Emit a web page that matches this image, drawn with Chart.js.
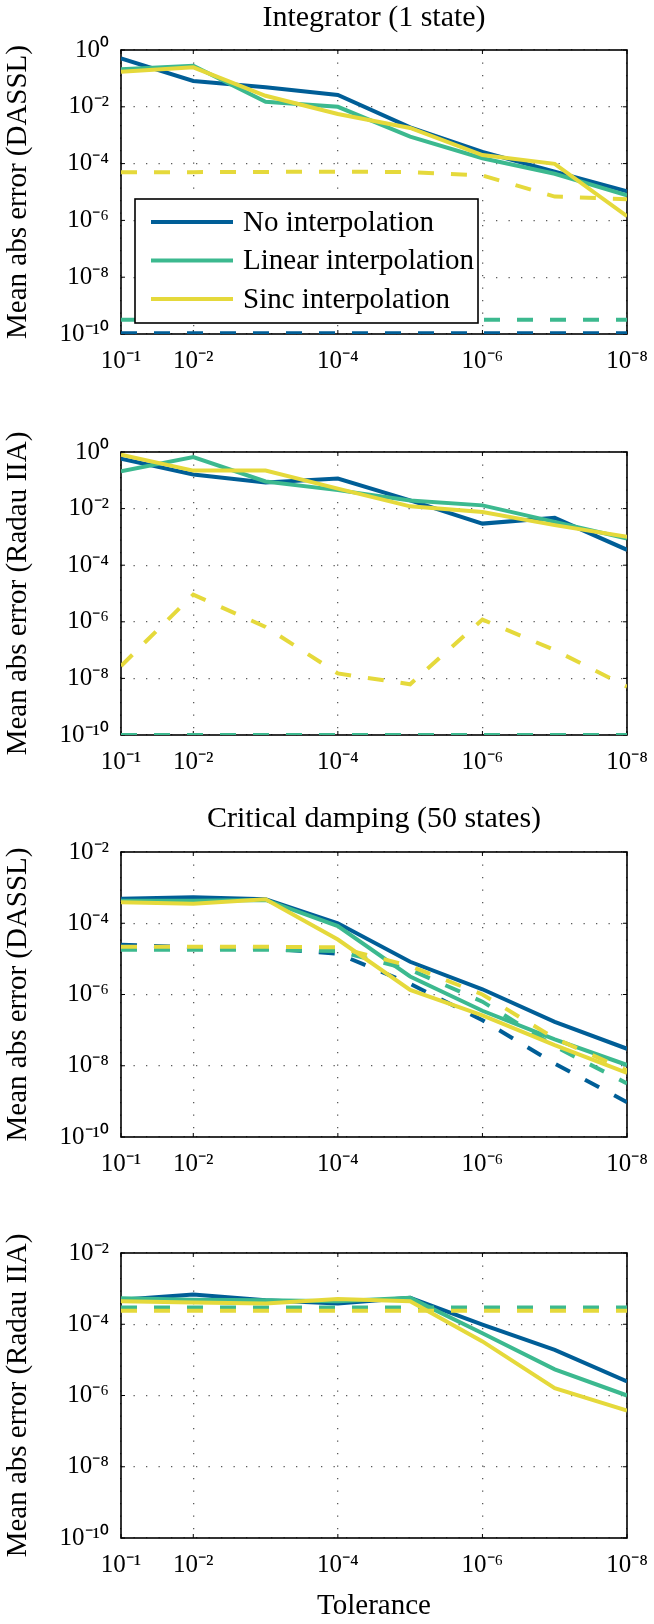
<!DOCTYPE html>
<html>
<head>
<meta charset="utf-8">
<script src="https://cdn.jsdelivr.net/npm/chart.js@4"></script>
<style>
  html, body { margin: 0; padding: 0; background: #fff; }
  #page { position: relative; width: 654px; height: 1624px; }
  canvas { position: absolute; left: 0; }
  #warm { position: absolute; left: 0; top: 0; font-family: 'Liberation Serif'; font-size: 20px; color: #fff; }
</style>
</head>
<body>
<div id="page">
  <span id="warm">Integrator 10⁻¹</span>
  <canvas id="c1" width="654" height="400" style="top:0"></canvas>
  <canvas id="c2" width="654" height="400" style="top:400px"></canvas>
  <canvas id="c3" width="654" height="400" style="top:800px"></canvas>
  <canvas id="c4" width="654" height="424" style="top:1200px"></canvas>
</div>
<script>
// tolerances used for every run (x axis)
const tolerances = [1e-1, 1e-2, 1e-3, 1e-4, 1e-5, 1e-6, 1e-7, 1e-8];
const xTickValues = [1e-1, 1e-2, 1e-4, 1e-6, 1e-8];
const yTicksIntegrator = [1, 1e-2, 1e-4, 1e-6, 1e-8, 1e-10];
const yTicksCritical = [1e-2, 1e-4, 1e-6, 1e-8, 1e-10];

const seriesNames = ["No interpolation", "Linear interpolation", "Sinc interpolation"];
const seriesColors = ["#005e97", "#3cb98f", "#e5d93b"];

// Integrator (1 state), DASSL
const intDasslNone = [5.1e-1, 8.1e-2, 4.9e-2, 2.6e-2, 1.9e-3, 2.6e-4, 5.2e-5, 1.05e-5];
const intDasslLinear = [2.1e-1, 2.8e-1, 1.5e-2, 1.0e-2, 8.9e-4, 1.55e-4, 4.4e-5, 7.6e-6];
const intDasslSinc = [1.7e-1, 2.45e-1, 2.45e-2, 5.6e-3, 1.8e-3, 2.0e-4, 9.8e-5, 1.4e-6];
const intDasslNoneDash = [1.07e-10, 1.07e-10, 1.07e-10, 1.07e-10, 1.07e-10, 1.07e-10, 1.07e-10, 1.07e-10];
const intDasslLinearDash = [3.2e-10, 3.2e-10, 3.2e-10, 3.2e-10, 3.2e-10, 3.2e-10, 3.2e-10, 3.2e-10];
const intDasslSincDash = [5.0e-5, 5.0e-5, 5.1e-5, 5.2e-5, 5.0e-5, 3.8e-5, 6.9e-6, 5.6e-6];

// Integrator (1 state), Radau IIA
const intRadauNone = [5.75e-1, 1.6e-1, 8.3e-2, 1.15e-1, 1.95e-2, 2.95e-3, 4.7e-3, 3.5e-4];
const intRadauLinear = [2.1e-1, 6.6e-1, 9.1e-2, 4.5e-2, 1.95e-2, 1.3e-2, 3.4e-3, 8.7e-4];
const intRadauSinc = [8.1e-1, 2.2e-1, 2.2e-1, 5.1e-2, 1.2e-2, 7.6e-3, 2.6e-3, 1.0e-3];
const intRadauNoneDash = [1e-10, 1e-10, 1e-10, 1e-10, 1e-10, 1e-10, 1e-10, 1e-10];
const intRadauLinearDash = [1e-10, 1e-10, 1e-10, 1e-10, 1e-10, 1e-10, 1e-10, 1e-10];
const intRadauSincDash = [2.75e-8, 9.1e-6, 6.6e-7, 1.5e-8, 6.2e-9, 1.2e-6, 1.0e-7, 5.1e-9];

// Critical damping (50 states), DASSL
const cdDasslNone = [4.9e-4, 5.4e-4, 4.7e-4, 1.0e-4, 8.3e-6, 1.4e-6, 1.7e-7, 3.0e-8];
const cdDasslLinear = [4.3e-4, 4.3e-4, 4.5e-4, 8.3e-5, 3.2e-6, 3.5e-7, 5.5e-8, 1.05e-8];
const cdDasslSinc = [3.9e-4, 3.5e-4, 4.7e-4, 3.5e-5, 1.35e-6, 2.6e-7, 3.8e-8, 6.3e-9];
const cdDasslNoneDash = [2.5e-5, 2.1e-5, 2.0e-5, 1.4e-5, 2.0e-6, 1.9e-7, 1.15e-8, 9.5e-10];
const cdDasslLinearDash = [1.8e-5, 1.8e-5, 1.8e-5, 1.65e-5, 5.0e-6, 6.3e-7, 3.5e-8, 3.2e-9];
const cdDasslSincDash = [2.2e-5, 2.2e-5, 2.2e-5, 2.1e-5, 6.3e-6, 1.0e-6, 5.9e-8, 7.4e-9];

// Critical damping (50 states), Radau IIA
const cdRadauNone = [4.9e-4, 6.8e-4, 4.7e-4, 3.8e-4, 5.5e-4, 9.8e-5, 1.9e-5, 2.5e-6];
const cdRadauLinear = [5.4e-4, 4.9e-4, 4.7e-4, 4.4e-4, 5.5e-4, 5.6e-5, 5.4e-6, 1.0e-6];
const cdRadauSinc = [4.4e-4, 4.1e-4, 3.8e-4, 5.1e-4, 4.4e-4, 3.3e-5, 1.6e-6, 3.8e-7];
const cdRadauNoneDash = [2.75e-4, 2.75e-4, 2.75e-4, 2.75e-4, 2.75e-4, 2.75e-4, 2.75e-4, 2.75e-4];
const cdRadauLinearDash = [2.95e-4, 2.95e-4, 2.95e-4, 2.95e-4, 2.95e-4, 2.95e-4, 2.95e-4, 2.95e-4];
const cdRadauSincDash = [2.4e-4, 2.4e-4, 2.4e-4, 2.4e-4, 2.4e-4, 2.4e-4, 2.4e-4, 2.4e-4];

const FONT = "'Liberation Serif'";
const SUP = { "-": "\u207B", "0": "\u2070", "1": "\u00B9", "2": "\u00B2", "3": "\u00B3",
  "4": "\u2074", "5": "\u2075", "6": "\u2076", "7": "\u2077", "8": "\u2078", "9": "\u2079" };

function powerLabel(v) {
  const e = String(Math.round(Math.log10(v)));
  return "10" + e.split("").map((c) => SUP[c]).join("");
}

// black box round the plot, with small inward ticks
const framePlugin = {
  id: "frame",
  beforeDatasetsDraw(chart) {
    const { ctx, chartArea: a, scales } = chart;
    ctx.save();
    ctx.strokeStyle = "#000";
    ctx.lineWidth = 1.6;
    ctx.strokeRect(a.left, a.top, a.right - a.left, a.bottom - a.top);
    ctx.lineWidth = 1;
    ctx.beginPath();
    scales.x.ticks.forEach((t) => {
      const px = scales.x.getPixelForValue(t.value);
      ctx.moveTo(px, a.bottom); ctx.lineTo(px, a.bottom - 4);
      ctx.moveTo(px, a.top); ctx.lineTo(px, a.top + 4);
    });
    scales.y.ticks.forEach((t) => {
      const py = scales.y.getPixelForValue(t.value);
      ctx.moveTo(a.left, py); ctx.lineTo(a.left + 4, py);
      ctx.moveTo(a.right, py); ctx.lineTo(a.right - 4, py);
    });
    ctx.stroke();
    ctx.restore();
  },
};

// legend box drawn inside the first plot
const boxLegend = {
  id: "boxLegend",
  afterDatasetsDraw(chart) {
    const { ctx, chartArea: a } = chart;
    const x0 = a.left + 14, y0 = a.top + 149, w = 343, h = 124;
    ctx.save();
    ctx.fillStyle = "#fff";
    ctx.fillRect(x0, y0, w, h);
    ctx.strokeStyle = "#000";
    ctx.lineWidth = 1.6;
    ctx.strokeRect(x0, y0, w, h);
    ctx.font = "29px " + FONT;
    ctx.textBaseline = "middle";
    seriesNames.forEach((name, i) => {
      const ry = y0 + 23 + i * 38.5;
      ctx.strokeStyle = seriesColors[i];
      ctx.lineWidth = 4;
      ctx.beginPath();
      ctx.moveTo(x0 + 16, ry);
      ctx.lineTo(x0 + 98, ry);
      ctx.stroke();
      ctx.fillStyle = "#000";
      ctx.fillText(name, x0 + 108, ry + 1);
    });
    ctx.restore();
  },
};

function makePanel(id, p) {
  const ds = [];
  p.solid.forEach((vals, i) => {
    ds.push({ vals, color: seriesColors[i], dash: [] });
    ds.push({ vals: p.dashed[i], color: seriesColors[i], dash: [16, 17] });
  });
  // first dataset is drawn on top in Chart.js, so reverse
  const datasets = ds.reverse().map((d) => ({
    data: tolerances.map((t, k) => ({ x: t, y: d.vals[k] })),
    borderColor: d.color,
    borderWidth: 4,
    borderDash: d.dash,
    pointRadius: 0,
    tension: 0,
    fill: false,
  }));

  const tickFont = { family: FONT, size: 25, weight: "normal" };
  const textFont = { family: FONT, size: 29, weight: "normal" };
  const titleFont = { family: FONT, size: 30, weight: "normal" };
  const grid = { color: "rgba(0,0,0,0.65)", lineWidth: 1.3, drawTicks: false };
  const border = { display: false, dash: [1.3, 11.2] };

  return new Chart(document.getElementById(id), {
    type: "line",
    data: { datasets },
    options: {
      responsive: false,
      animation: false,
      layout: { padding: { left: 0, right: 27, top: p.padTop, bottom: 0 } },
      plugins: {
        legend: { display: false },
        tooltip: { enabled: false },
        title: {
          display: !!p.title,
          text: p.title || "",
          fullSize: false,
          color: "#000",
          font: titleFont,
          padding: p.titlePad || 0,
        },
      },
      scales: {
        x: {
          type: "logarithmic",
          reverse: true,
          min: 1e-8,
          max: 1e-1,
          afterBuildTicks: (s) => { s.ticks = xTickValues.map((v) => ({ value: v })); },
          afterFit: (s) => { s.height = p.xAxisH; s.paddingLeft = 0; s.paddingRight = 0; },
          ticks: { callback: (v) => powerLabel(v), font: tickFont, color: "#000",
            padding: 12, maxRotation: 0, autoSkip: false },
          grid, border,
          title: { display: !!p.xTitle, text: p.xTitle || "", color: "#000", font: textFont,
            padding: { top: 0, bottom: 0 } },
        },
        y: {
          type: "logarithmic",
          min: 1e-10,
          max: p.yTicks[0],
          afterBuildTicks: (s) => { s.ticks = p.yTicks.map((v) => ({ value: v })); },
          afterFit: (s) => { s.width = 121; s.paddingTop = 0; s.paddingBottom = 0; },
          ticks: { callback: (v) => powerLabel(v), font: tickFont, color: "#000", padding: 12 },
          grid, border,
          title: { display: true, text: p.yTitle, color: "#000", font: textFont,
            padding: { top: 1, bottom: 0 } },
        },
      },
    },
    plugins: p.legend ? [framePlugin, boxLegend] : [framePlugin],
  });
}

function drawAll() {
  Chart.defaults.font.family = FONT;
  makePanel("c1", {
    title: "Integrator (1 state)", titlePad: { top: 0, bottom: 14 }, padTop: 0, xAxisH: 66,
    yTitle: "Mean abs error (DASSL)", yTicks: yTicksIntegrator, legend: true,
    solid: [intDasslNone, intDasslLinear, intDasslSinc],
    dashed: [intDasslNoneDash, intDasslLinearDash, intDasslSincDash],
  });
  makePanel("c2", {
    padTop: 52, xAxisH: 65,
    yTitle: "Mean abs error (Radau IIA)", yTicks: yTicksIntegrator,
    solid: [intRadauNone, intRadauLinear, intRadauSinc],
    dashed: [intRadauNoneDash, intRadauLinearDash, intRadauSincDash],
  });
  makePanel("c3", {
    title: "Critical damping (50 states)", titlePad: { top: 1, bottom: 15 }, padTop: 0, xAxisH: 63,
    yTitle: "Mean abs error (DASSL)", yTicks: yTicksCritical,
    solid: [cdDasslNone, cdDasslLinear, cdDasslSinc],
    dashed: [cdDasslNoneDash, cdDasslLinearDash, cdDasslSincDash],
  });
  makePanel("c4", {
    padTop: 53, xAxisH: 86, xTitle: "Tolerance",
    yTitle: "Mean abs error (Radau IIA)", yTicks: yTicksCritical,
    solid: [cdRadauNone, cdRadauLinear, cdRadauSinc],
    dashed: [cdRadauNoneDash, cdRadauLinearDash, cdRadauSincDash],
  });
}

document.fonts.load("29px 'Liberation Serif'").then(drawAll, drawAll);
</script>
</body>
</html>
